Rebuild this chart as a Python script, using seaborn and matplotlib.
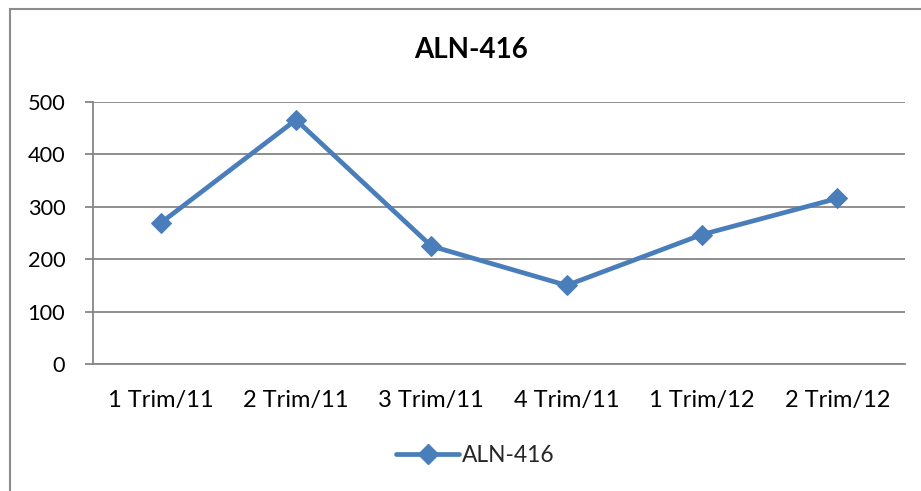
import matplotlib
matplotlib.use("Agg")
import matplotlib.pyplot as plt
from matplotlib.patches import Rectangle
from matplotlib.lines import Line2D
import seaborn as sns
import pandas as pd
import numpy as np

# Quarterly values for the ALN-416 series
periods = ["1 Trim/11", "2 Trim/11", "3 Trim/11", "4 Trim/11", "1 Trim/12", "2 Trim/12"]
values = [269, 466, 225, 150, 247, 316]
y_ticks = [0, 100, 200, 300, 400, 500]
series_name = "ALN-416"

sns.set_theme(style="white")
plt.rcParams["font.family"] = ["Lato", "DejaVu Sans"]

W, H = 921, 491
fig = plt.figure(figsize=(W / 100, H / 100), dpi=100)
fig.patch.set_facecolor("white")

# chart frame
fig.add_artist(Rectangle((10 / W, -0.05), 1.2, (H - 9) / H + 0.05,
                         transform=fig.transFigure, fill=False,
                         edgecolor="#8c8c8c", linewidth=1.5))

left, right, top, bottom = 93, 905, 102, 364
ax = fig.add_axes([left / W, 1 - bottom / H, (right - left) / W, (bottom - top) / H])

df = pd.DataFrame({"period": periods, "value": values, "x": np.arange(len(periods))})
color = "#4A7EBB"
sns.lineplot(data=df, x="x", y="value", ax=ax, color=color, linewidth=3.4,
             marker="D", markersize=10, markeredgecolor=color, markerfacecolor=color,
             legend=False)

ax.set_xlim(-0.5, len(periods) - 0.5)
ax.set_ylim(0, 500)
ax.set_yticks(y_ticks)
ax.set_yticklabels([str(v) for v in y_ticks], fontsize=15.7, color="black")
ax.set_xticks(df["x"])
ax.set_xticklabels(periods, fontsize=17, color="black")
ax.set_xticks(np.arange(-0.5, len(periods)), minor=True)
ax.tick_params(axis="x", which="major", length=0, pad=19)
ax.tick_params(axis="x", which="minor", length=6, width=1.3, color="#868686", direction="out")
ax.tick_params(axis="y", which="major", length=6, width=1.3, color="#868686", direction="out", pad=14, left=True)
ax.set_xlabel("")
ax.set_ylabel("")

ax.grid(axis="y", color="#868686", linewidth=1.3)
ax.set_axisbelow(True)
for s in ["top", "right"]:
    ax.spines[s].set_visible(False)
for s in ["left", "bottom"]:
    ax.spines[s].set_color("#868686")
    ax.spines[s].set_linewidth(1.3)

fig.text(471 / W, 1 - 50 / H, series_name, ha="center", va="center",
         fontsize=20, fontweight="bold", color="black")

handle = Line2D([], [], color=color, linewidth=3.4, marker="D", markersize=10)
fig.legend([handle], [series_name], loc="center", bbox_to_anchor=(475 / W, 1 - 455 / H),
           frameon=False, fontsize=16.4, handlelength=2.8, handletextpad=0.1)

fig.savefig("out.png", dpi=100)
